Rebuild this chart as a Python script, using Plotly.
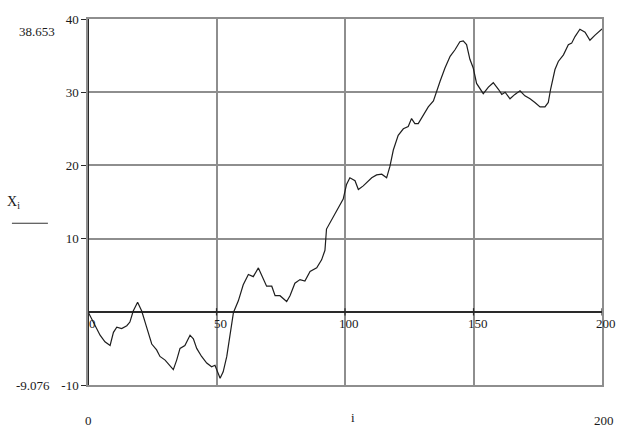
import plotly.graph_objects as go

# Random-walk trace X_i against index i
i_vals = [0, 2, 4.7, 6.6, 8.6, 9.9, 11.2, 13.1, 15.1, 16.3, 17.6, 19.3, 20.9, 22.8,
          24.8, 26.7, 28, 30, 31.9, 33.2, 34.5, 35.8, 37.7, 39.7, 41, 42.3, 44.2,
          46.2, 48.1, 49.4, 51.4, 52.6, 54, 55.3, 56.6, 58.5, 60.4, 62.4, 64.3,
          66.3, 68.2, 69.5, 71.5, 72.8, 74.7, 77.3, 78.6, 80.5, 82.5, 84.4, 86.4,
          89, 90.9, 92.2, 92.8, 94.2, 96.8, 99.3, 100.6, 101.9, 103.9, 105.2,
          107.1, 109.1, 110.4, 112.3, 114.3, 116.2, 117.5, 118.8, 120.7, 122.7,
          124.6, 125.9, 127.2, 128.5, 130.5, 132.4, 134.4, 135.7, 137, 138.9,
          140.9, 142.8, 144.7, 146, 147.3, 148.6, 149.9, 151.2, 153.8, 155.8,
          157.7, 159.7, 161, 162.3, 164.2, 166.1, 168.1, 170, 172, 173.9, 175.9,
          177.8, 179.1, 180, 181.7, 183, 185, 186.9, 188.2, 189.5, 191.4, 193.4,
          195.3, 197.3, 199.2, 200]
x_vals = [0, -1.4, -3.2, -4.1, -4.6, -2.8, -2.1, -2.3, -1.9, -1.4, 0.1, 1.3, 0.1, -2.1,
          -4.4, -5.2, -6.1, -6.6, -7.3, -7.9, -6.6, -5.0, -4.6, -3.2, -3.7, -5.0, -6.1,
          -7.0, -7.5, -7.3, -9.076, -8.2, -6.1, -3.0, -0.1, 1.5, 3.7, 5.1, 4.8,
          6.0, 4.6, 3.5, 3.5, 2.2, 2.2, 1.4, 2.2, 3.9, 4.4, 4.2, 5.5,
          6.0, 7.1, 8.4, 11.3, 12.2, 14.0, 15.4, 17.4, 18.3, 17.9, 16.7,
          17.2, 17.9, 18.3, 18.7, 18.8, 18.3, 19.9, 22.1, 24.1, 25.0,
          25.3, 26.4, 25.7, 25.7, 26.8, 28.0, 28.8, 30.2, 31.5, 33.3,
          34.9, 35.8, 36.9, 37.0, 36.5, 34.5, 33.3, 31.2, 29.8, 30.7,
          31.3, 30.4, 29.7, 30.0, 29.1, 29.7, 30.2, 29.5, 29.1, 28.6, 28.0,
          28.0, 28.6, 30.4, 33.1, 34.2, 35.1, 36.5, 36.7, 37.6, 38.6, 38.2,
          37.1, 37.8, 38.4, 38.653]

x_ticks = [0, 50, 100, 150, 200]
y_ticks = [-10, 10, 20, 30, 40]
x_range = [0, 200]
y_range = [-10, 40]
y_max_label = "38.653"
y_min_label = "-9.076"

FONT = "Liberation Serif"
GRID = "#8e8e8e"
AXIS = "#2a2a2a"

fig = go.Figure()
fig.add_trace(go.Scatter(x=i_vals, y=x_vals, mode="lines",
                         line=dict(color="#1e1e1e", width=1.2),
                         hoverinfo="skip", showlegend=False))

fig.update_xaxes(range=x_range, tickvals=x_ticks, showticklabels=False,
                 showgrid=True, gridcolor=GRID, gridwidth=1.5,
                 zeroline=True, zerolinecolor=AXIS, zerolinewidth=2,
                 showline=True, linecolor=GRID, linewidth=1.5, mirror=True,
                 ticks="")
fig.update_yaxes(range=y_range, tickvals=y_ticks,
                 ticktext=[str(v) for v in y_ticks],
                 showgrid=True, gridcolor=GRID, gridwidth=1.5,
                 zeroline=True, zerolinecolor=AXIS, zerolinewidth=2,
                 showline=True, linecolor=GRID, linewidth=1.5, mirror=True,
                 ticks="outside", ticklen=5, tickcolor=AXIS, tickwidth=1.2,
                 tickfont=dict(family=FONT, size=13, color="#1a1a1a"))

# x tick labels sit just under the zero line
for t in x_ticks:
    fig.add_annotation(x=t, y=0, xref="x", yref="y", text=str(t),
                       showarrow=False, xanchor="center", yanchor="top",
                       xshift=4, yshift=-2,
                       font=dict(family=FONT, size=13, color="#1a1a1a"))
    # small tick crossing the zero line
    fig.add_shape(type="line", xref="x", yref="y", x0=t, x1=t, y0=-0.5, y1=0.5,
                  line=dict(color=AXIS, width=1.2))

# left edge is the y axis at i = 0
fig.add_shape(type="line", xref="x", yref="paper", x0=x_range[0], x1=x_range[0],
              y0=0, y1=1, line=dict(color=AXIS, width=2))

lab = dict(family=FONT, size=13, color="#1a1a1a")
# range markers for the y data
fig.add_annotation(x=-0.06, y=y_range[1], xref="paper", yref="y", text=y_max_label,
                   showarrow=False, xanchor="right", yanchor="middle", yshift=-12,
                   font=lab)
fig.add_annotation(x=-0.07, y=y_range[0], xref="paper", yref="y", text=y_min_label,
                   showarrow=False, xanchor="right", yanchor="middle",
                   font=lab)
# y label with its trace-style underline
fig.add_annotation(x=-0.145, y=0.50, xref="paper", yref="paper",
                   text="X<sub>i</sub>", showarrow=False, xanchor="center",
                   yanchor="middle", font=dict(family=FONT, size=14, color="#1a1a1a"))
fig.add_shape(type="line", xref="paper", yref="paper", x0=-0.148, x1=-0.078,
              y0=0.442, y1=0.442, line=dict(color="#333333", width=1.2))
# x range limits and x label
fig.add_annotation(x=x_range[0], y=0, xref="x", yref="paper", text=str(x_range[0]),
                   showarrow=False, xanchor="center", yanchor="top", yshift=-26,
                   font=lab)
fig.add_annotation(x=x_range[1], y=0, xref="x", yref="paper", text=str(x_range[1]),
                   showarrow=False, xanchor="center", yanchor="top", yshift=-26,
                   xshift=2, font=lab)
fig.add_annotation(x=(x_range[0] + x_range[1]) / 2 + 3, y=0, xref="x", yref="paper",
                   text="i", showarrow=False, xanchor="center", yanchor="top",
                   yshift=-23, font=lab)

fig.update_layout(width=628, height=432,
                  margin=dict(l=88, r=26, t=13, b=47),
                  paper_bgcolor="white", plot_bgcolor="white",
                  showlegend=False)

fig.write_html("out.html")
